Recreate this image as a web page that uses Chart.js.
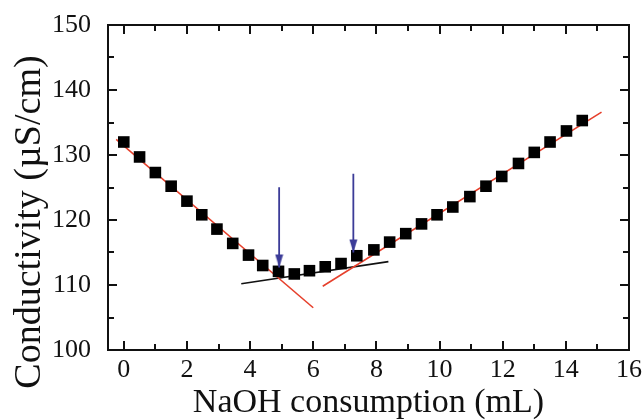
<!DOCTYPE html>
<html>
<head>
<meta charset="utf-8">
<script src="https://cdn.jsdelivr.net/npm/chart.js@4.4.1/dist/chart.umd.min.js"></script>
<style>
  html, body { margin: 0; padding: 0; background: #fff; overflow: hidden; }
  #wrap { width: 643px; height: 420px; overflow: hidden; position: relative; }
  canvas { display: block; }
</style>
</head>
<body>
<div id="wrap"><canvas id="c" width="680" height="420"></canvas></div>
<script>
// ---- data ----
const naohVolume = [0, 0.5, 1.0, 1.5, 2.0, 2.47, 2.95, 3.45, 3.95, 4.4, 4.9, 5.4, 5.88, 6.38, 6.88, 7.38,
                    7.92, 8.42, 8.93, 9.43, 9.92, 10.42, 10.96, 11.47, 11.97, 12.5, 13.0, 13.5, 14.02, 14.52];
const conductivity = [132.0, 129.7, 127.3, 125.2, 122.9, 120.8, 118.6, 116.4, 114.6, 113.0, 112.1, 111.7, 112.2, 112.8, 113.3, 114.5,
                      115.4, 116.6, 117.9, 119.4, 120.8, 122.0, 123.6, 125.2, 126.7, 128.7, 130.4, 132.0, 133.7, 135.3];

// fitted straight lines (end points)
const fitLeftX = [-0.24, 6.0];
const fitLeftY = [132.4, 106.5];
const fitMidX = [3.72, 8.38];
const fitMidY = [110.2, 113.6];
const fitRightX = [6.30, 15.13];
const fitRightY = [109.8, 136.6];

// arrows marking end points
const arrow1X = [4.92, 4.92];
const arrow1Y = [125.05, 112.7];
const arrow2X = [7.27, 7.27];
const arrow2Y = [127.1, 115.0];

// axis ticks
const xTicks = [0, 2, 4, 6, 8, 10, 12, 14, 16];
const xMinorTicks = [1, 3, 5, 7, 9, 11, 13, 15];
const yTicks = [100, 110, 120, 130, 140, 150];
const yMinorTicks = [105, 115, 125, 135, 145];

const xTitle = 'NaOH consumption (mL)';
const yTitle = 'Conductivity (\u00B5S/cm)';

// ---- helpers ----
const pts = (xs, ys) => xs.map((x, i) => ({ x: x, y: ys[i] }));
const FONT = "'Liberation Serif', 'Times New Roman', serif";
const RED = '#e6402c';
const NAVY = '#3c3c98';

// arrow head image (tip at the image centre)
const arrowHead = document.createElement('canvas');
arrowHead.width = 9; arrowHead.height = 28;
(function () {
  const g = arrowHead.getContext('2d');
  g.fillStyle = NAVY;
  g.beginPath();
  g.moveTo(0.5, 1); g.lineTo(8.5, 1); g.lineTo(4.5, 14); g.closePath();
  g.fill();
})();

const frame = {
  id: 'frame',
  beforeDatasetsDraw(chart) {
    const { ctx, chartArea: a, scales: { x, y } } = chart;
    ctx.save();
    ctx.strokeStyle = '#111';
    ctx.lineWidth = 2;
    ctx.strokeRect(a.left, a.top, a.right - a.left, a.bottom - a.top);
    const tickX = (vals, len) => vals.forEach(v => {
      const px = Math.round(x.getPixelForValue(v));
      ctx.beginPath();
      ctx.moveTo(px, a.bottom); ctx.lineTo(px, a.bottom - len);
      ctx.moveTo(px, a.top); ctx.lineTo(px, a.top + len);
      ctx.stroke();
    });
    const tickY = (vals, len) => vals.forEach(v => {
      const py = Math.round(y.getPixelForValue(v));
      ctx.beginPath();
      ctx.moveTo(a.left, py); ctx.lineTo(a.left + len, py);
      ctx.moveTo(a.right, py); ctx.lineTo(a.right - len, py);
      ctx.stroke();
    });
    tickX(xTicks, 9); tickX(xMinorTicks, 6);
    tickY(yTicks, 9); tickY(yMinorTicks, 6);
    ctx.restore();
  },
  afterDraw(chart) {
    const { ctx } = chart;
    ctx.save();
    ctx.translate(30, 222);
    ctx.rotate(-Math.PI / 2);
    ctx.font = "38px " + FONT;
    ctx.fillStyle = '#111';
    ctx.textAlign = 'center';
    ctx.textBaseline = 'middle';
    ctx.fillText(yTitle, 0, 0);
    ctx.restore();
  }
};

const lineDs = (xs, ys, color, width) => ({
  type: 'line',
  data: pts(xs, ys),
  borderColor: color,
  borderWidth: width,
  pointRadius: 0,
  showLine: true,
  fill: false,
  clip: false
});

new Chart(document.getElementById('c'), {
  type: 'line',
  data: {
    datasets: [
      Object.assign(lineDs(fitLeftX, fitLeftY, RED, 1.6), { order: 3 }),
      Object.assign(lineDs(fitRightX, fitRightY, RED, 1.6), { order: 3 }),
      Object.assign(lineDs(fitMidX, fitMidY, '#111', 1.6), { order: 3 }),
      {
        type: 'line',
        data: pts(naohVolume, conductivity),
        showLine: false,
        pointStyle: 'rect',
        pointRadius: 8.2,
        pointBackgroundColor: '#000',
        pointBorderColor: '#000',
        pointBorderWidth: 0,
        order: 2
      },
      Object.assign(lineDs(arrow1X, arrow1Y, NAVY, 1.8), { pointRadius: [0, 5], pointStyle: arrowHead, order: 1 }),
      Object.assign(lineDs(arrow2X, arrow2Y, NAVY, 1.8), { pointRadius: [0, 5], pointStyle: arrowHead, order: 1 })
    ]
  },
  options: {
    responsive: false,
    animation: false,
    devicePixelRatio: 1,
    layout: { padding: { left: 0, top: 25, right: 51, bottom: 0 } },
    plugins: { legend: { display: false }, tooltip: { enabled: false } },
    scales: {
      x: {
        type: 'linear',
        position: 'bottom',
        min: -0.5,
        max: 16,
        grid: { display: false },
        border: { display: false },
        afterBuildTicks: s => { s.ticks = xTicks.map(v => ({ value: v })); },
        afterFit: s => { s.height = 70; },
        ticks: { font: { family: FONT, size: 26 }, color: '#111', padding: -3, maxRotation: 0, autoSkip: false },
        title: { display: true, text: xTitle, color: '#111', font: { family: FONT, size: 34, lineHeight: 1 }, padding: 0 }
      },
      y: {
        type: 'linear',
        position: 'left',
        min: 100,
        max: 150,
        grid: { display: false },
        border: { display: false },
        afterBuildTicks: s => { s.ticks = yTicks.map(v => ({ value: v })); },
        afterFit: s => { s.width = 108; },
        ticks: { font: { family: FONT, size: 26 }, color: '#111', padding: 9 }
      }
    }
  },
  plugins: [frame]
});
</script>
</body>
</html>
